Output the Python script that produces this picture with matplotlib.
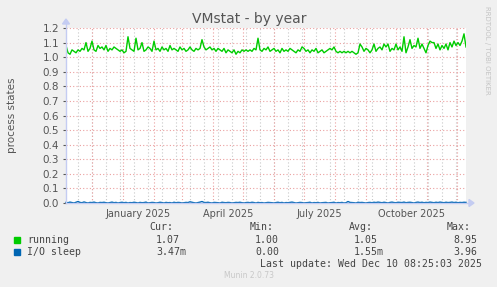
import matplotlib
matplotlib.use("Agg")
import matplotlib.pyplot as plt
from matplotlib.lines import Line2D
from matplotlib.patches import Polygon, Rectangle
import pandas as pd

# ---------------- data ----------------
title = "VMstat - by year"
y_label = "process states"
series_names = ["running", "I/O sleep"]
series_colors = ["#00CC00", "#0066B3"]

running = [
    1.08, 1.03, 1.02, 1.05, 1.04, 1.03, 1.05, 1.04, 1.06, 1.05, 1.10, 1.04, 1.06, 1.11,
    1.05, 1.04, 1.08, 1.06, 1.07, 1.05, 1.08, 1.04, 1.06, 1.05, 1.07, 1.06, 1.05,
    1.04, 1.05, 1.03, 1.04, 1.14, 1.06, 1.05, 1.04, 1.13, 1.05, 1.06, 1.10, 1.04, 1.05,
    1.07, 1.06, 1.04, 1.11, 1.05, 1.06, 1.04, 1.07, 1.05, 1.06, 1.04, 1.08, 1.05, 1.06,
    1.05, 1.04, 1.07, 1.05, 1.06, 1.04, 1.05, 1.07, 1.05, 1.04, 1.06, 1.05,
    1.06, 1.12, 1.07, 1.05, 1.06, 1.07, 1.05, 1.06, 1.04, 1.06, 1.05, 1.04, 1.06, 1.03,
    1.05, 1.04, 1.03, 1.05, 1.02, 1.04, 1.03, 1.05, 1.04, 1.05, 1.04,
    1.05, 1.04, 1.06, 1.05, 1.13, 1.05, 1.04, 1.06, 1.05, 1.07, 1.04, 1.05, 1.06, 1.04,
    1.05, 1.03, 1.06, 1.04, 1.05, 1.04, 1.06, 1.05, 1.04, 1.03, 1.05, 1.04, 1.07, 1.06,
    1.04, 1.05, 1.03, 1.05, 1.04, 1.06, 1.03, 1.04, 1.05, 1.03, 1.04, 1.05,
    1.06, 1.05, 1.07, 1.04, 1.03, 1.04, 1.03, 1.04, 1.03, 1.04, 1.03, 1.04, 1.03, 1.02,
    1.03, 1.09, 1.07, 1.04, 1.06, 1.05, 1.03, 1.05, 1.09, 1.04, 1.06, 1.07, 1.05, 1.09,
    1.07, 1.09, 1.04, 1.06, 1.05, 1.09, 1.05, 1.07, 1.04, 1.14, 1.03, 1.07, 1.12, 1.06,
    1.08, 1.07, 1.13, 1.06, 1.09, 1.06, 1.03, 1.08, 1.11, 1.10, 1.10, 1.06, 1.09, 1.05,
    1.08, 1.06, 1.09, 1.05, 1.10, 1.07, 1.11, 1.08, 1.10, 1.08, 1.11, 1.16, 1.07,
]

io_sleep = [
    0.004, 0.002, 0.006, 0.003, 0.0, 0.005, 0.010, 0.004, 0.002, 0.007, 0.003, 0.0,
    0.004, 0.003, 0.006, 0.002, 0.0, 0.004, 0.003, 0.005, 0.002, 0.0, 0.003, 0.006,
    0.002, 0.004, 0.0, 0.003, 0.005, 0.002, 0.004, 0.0, 0.003, 0.002, 0.005, 0.003,
    0.0, 0.004, 0.002, 0.003, 0.006, 0.0, 0.002, 0.004, 0.003, 0.0, 0.002, 0.005,
    0.003, 0.0, 0.004, 0.002, 0.003, 0.0, 0.005, 0.002, 0.004, 0.003, 0.0, 0.002,
    0.004, 0.003, 0.008, 0.005, 0.002, 0.0, 0.003, 0.006, 0.010, 0.004, 0.003, 0.005,
    0.002, 0.0, 0.004, 0.003, 0.002, 0.0, 0.005, 0.003, 0.002, 0.004, 0.003, 0.0,
    0.002, 0.004, 0.003, 0.005, 0.002, 0.0, 0.003, 0.004, 0.002, 0.005, 0.003, 0.0,
    0.004, 0.002, 0.003, 0.0, 0.002, 0.004, 0.003, 0.002, 0.0, 0.003, 0.005, 0.002,
    0.004, 0.0, 0.003, 0.002, 0.004, 0.006, 0.003, 0.0, 0.002, 0.004, 0.003, 0.0,
    0.002, 0.003, 0.005, 0.0, 0.003, 0.002, 0.004, 0.0, 0.002, 0.003, 0.004, 0.0,
    0.002, 0.003, 0.005, 0.0, 0.003, 0.002, 0.004, 0.0, 0.002, 0.010, 0.004, 0.003,
    0.002, 0.0, 0.005, 0.003, 0.004, 0.002, 0.0, 0.003, 0.004, 0.002, 0.005, 0.003,
    0.006, 0.004, 0.002, 0.005, 0.003, 0.0, 0.004, 0.006, 0.003, 0.002, 0.005, 0.004,
    0.003, 0.006, 0.002, 0.004, 0.005, 0.003, 0.0, 0.004, 0.006, 0.003, 0.005, 0.002,
    0.004, 0.003, 0.006, 0.004, 0.002, 0.005, 0.003, 0.006, 0.004, 0.002, 0.005, 0.003,
    0.004, 0.006, 0.003, 0.005, 0.002, 0.004, 0.003, 0.005, 0.004,
]

y_ticks = [0.0, 0.1, 0.2, 0.3, 0.4, 0.5, 0.6, 0.7, 0.8, 0.9, 1.0, 1.1, 1.2]
x_tick_labels = ["January 2025", "April 2025", "July 2025", "October 2025"]
x_tick_months = ["2025-01-01", "2025-04-01", "2025-07-01", "2025-10-01"]

legend_headers = ["Cur:", "Min:", "Avg:", "Max:"]
legend_values = [
    ["1.07", "1.00", "1.05", "8.95"],
    ["3.47m", "0.00", "1.55m", "3.96"],
]
last_update = "Last update: Wed Dec 10 08:25:03 2025"
footer = "Munin 2.0.73"
side_text = "RRDTOOL / TOBI OETIKER"

# ---------------- figure ----------------
W, H = 497, 287
fig = plt.figure(figsize=(W / 100, H / 100), dpi=100, facecolor="#F0F0F0")


def fx(px):
    return px / W


def fy(py):
    return 1 - py / H


L, R, T, B = 66, 466, 28, 203
ax = fig.add_axes([fx(L), fy(B), fx(R) - fx(L), fy(T) - fy(B)])
ax.set_facecolor("white")

end = pd.Timestamp("2025-12-10 08:25:03")
start = end - pd.Timedelta(days=400)
n = min(len(running), len(io_sleep))
dates = pd.date_range(start=start, periods=n, freq="2D")

ax.set_xlim(start, end)
ax.set_ylim(0, 1.2)

# grid
grid_red = "#EBA0A0"
grid_gray = "#C8C8C8"
for v in y_ticks:
    ax.axhline(v, color=grid_red, lw=0.8, ls=(0, (1, 2)), zorder=1)

anchor = pd.Timestamp("2025-08-10")
minor_dates = []
d = anchor
while d > start:
    d -= pd.Timedelta(days=14)
d += pd.Timedelta(days=14)
while d < end:
    minor_dates.append(d)
    d += pd.Timedelta(days=14)
for d in minor_dates:
    ax.axvline(d, color=grid_gray, lw=0.8, ls=(0, (1, 2)), zorder=1)

month_starts = pd.date_range(start=start, end=end, freq="MS")
for d in month_starts:
    ax.axvline(d, color=grid_red, lw=0.8, ls=(0, (1, 2)), zorder=1)

# data
ax.plot(dates, running[:n], color=series_colors[0], lw=1.0, zorder=3)
ax.plot(dates, io_sleep[:n], color=series_colors[1], lw=1.0, zorder=3, clip_on=False)

# ticks
ax.set_yticks(y_ticks)
ax.set_yticklabels([f"{v:.1f}" for v in y_ticks])
tick_pos = [pd.Timestamp(m) + pd.Timedelta(days=15.5) for m in x_tick_months]
ax.set_xticks(tick_pos)
ax.set_xticklabels(x_tick_labels)
ax.tick_params(axis="x", length=0, pad=4, labelsize=7, colors="#555555")
ax.tick_params(axis="y", length=2, pad=3, labelsize=7.5, colors="#555555")
for t in ax.yaxis.get_ticklines():
    t.set_color(grid_red)
for s in ax.spines.values():
    s.set_visible(False)

# axes with arrows (light blue)
axis_col = "#C4CCF2"
fig.add_artist(Line2D([fx(L), fx(470)], [fy(B), fy(B)], color=axis_col, lw=1.0, zorder=2))
fig.add_artist(Line2D([fx(L), fx(L)], [fy(B), fy(22)], color=axis_col, lw=1.0))
fig.add_artist(Polygon([[fx(469), fy(B - 3.5)], [fx(469), fy(B + 3.5)], [fx(474), fy(B)]],
                       closed=True, color=axis_col, transform=fig.transFigure))
fig.add_artist(Polygon([[fx(L - 3.5), fy(24)], [fx(L + 3.5), fy(24)], [fx(L), fy(19)]],
                       closed=True, color=axis_col, transform=fig.transFigure))

# titles
fig.text(fx(249), fy(19), title, ha="center", va="center", fontsize=10, color="#555555")
fig.text(fx(12), fy(115), y_label, ha="center", va="center", rotation=90,
         fontsize=7.5, color="#555555")
fig.text(fx(487), fy(6), side_text, ha="center", va="top", rotation=270,
         fontsize=5, color="#C4C4C4")

# legend
mono = "DejaVu Sans Mono"
lfs = 7.1
txt_col = "#444444"
col_x_head = [149, 250, 349, 447]
col_x_val = [156, 255, 354, 453]
for hx, h in zip(col_x_head, legend_headers):
    fig.text(fx(hx), fy(227), h, family=mono, fontsize=lfs, color=txt_col,
             va="center", ha="left")
row_y = [240, 252]
for i, (name, col) in enumerate(zip(series_names, series_colors)):
    y = row_y[i]
    fig.add_artist(Rectangle((fx(14), fy(y + 3)), fx(6), 6 / H, color=col,
                             transform=fig.transFigure))
    fig.text(fx(27), fy(y), name, family=mono, fontsize=lfs, color=txt_col,
             va="center", ha="left")
    for vx, v in zip(col_x_val, legend_values[i]):
        fig.text(fx(vx), fy(y), v, family=mono, fontsize=lfs, color=txt_col,
                 va="center", ha="left")
fig.text(fx(482), fy(264), last_update, family=mono, fontsize=lfs, color=txt_col,
         va="center", ha="right")
fig.text(fx(249), fy(276), footer, fontsize=5.5, color="#C8C8C8", va="center", ha="center")

fig.savefig("out.png", dpi=100, facecolor=fig.get_facecolor())
